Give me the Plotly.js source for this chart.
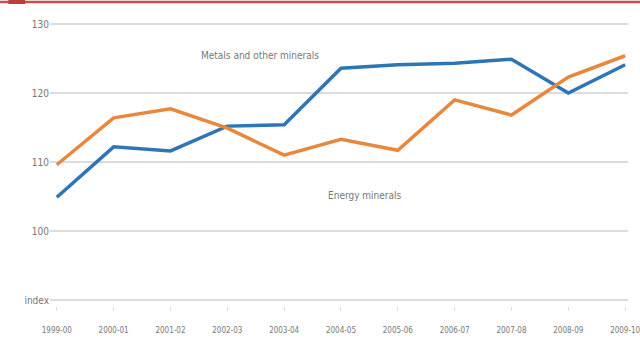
<!DOCTYPE html>
<html>
<head>
<meta charset="utf-8">
<script src="https://cdn.plot.ly/plotly-3.0.1.min.js"></script>
<style>
html,body{margin:0;padding:0;background:#fff;}
#chart{width:640px;height:340px;}
</style>
</head>
<body>
<div id="chart"></div>
<script>
const years = ["1999-00","2000-01","2001-02","2002-03","2003-04","2004-05","2005-06","2006-07","2007-08","2008-09","2009-10"];
const metals = [104.9,112.2,111.6,115.2,115.4,123.6,124.1,124.3,124.9,120.0,124.1];
const energy = [109.6,116.4,117.7,114.9,111.0,113.3,111.7,119.0,116.8,122.3,125.4];
const yTickVals = [90,100,110,120,130];
const yTickText = ["index","100","110","120","130"];

const xIdx = years.map((_, i) => i);
const fontFam = "'Liberation Sans Narrow', 'DejaVu Sans Condensed', 'Liberation Sans', sans-serif";

const traces = [
  {x: xIdx, y: metals, type: 'scatter', mode: 'lines', name: 'Metals and other minerals',
   line: {color: '#2e75b6', width: 3.5}},
  {x: xIdx, y: energy, type: 'scatter', mode: 'lines', name: 'Energy minerals',
   line: {color: '#e8883f', width: 3.5}}
];

const layout = {
  width: 640, height: 340,
  margin: {l: 50, r: 12, t: 20, b: 34},
  paper_bgcolor: '#fff', plot_bgcolor: '#fff',
  showlegend: false,
  font: {family: fontFam, color: '#777', size: 10},
  xaxis: {
    range: [-0.12, 10.05],
    tickvals: xIdx, ticktext: years,
    showgrid: false, zeroline: false, showline: false,
    ticks: 'outside', ticklen: 4, tickcolor: '#ddd',
    ticklabelstandoff: 12,
    ticklabeloverflow: 'allow',
    tickfont: {size: 8, color: '#777'},
    fixedrange: true
  },
  yaxis: {
    range: [89.13, 130.58],
    tickvals: yTickVals, ticktext: yTickText,
    showgrid: true, gridcolor: '#dcdcdc', gridwidth: 2,
    zeroline: false, showline: false, ticks: '',
    tickfont: {size: 10, color: '#777'},
    fixedrange: true
  },
  annotations: [
    {x: 3.57, y: 125.5, xref: 'x', yref: 'y', text: 'Metals and other minerals', showarrow: false,
     font: {size: 10, color: '#777', family: fontFam}},
    {x: 5.42, y: 105.2, xref: 'x', yref: 'y', text: 'Energy minerals', showarrow: false,
     font: {size: 10, color: '#777', family: fontFam}}
  ],
  shapes: [
    {type: 'line', xref: 'paper', yref: 'paper', x0: -0.09, x1: 1.03, y0: 1.063, y1: 1.063,
     line: {color: '#c9504a', width: 2.5}},
    {type: 'rect', xref: 'paper', yref: 'paper', x0: -0.072, x1: -0.043, y0: 1.056, y1: 1.07,
     fillcolor: '#b8403a', line: {width: 0}}
  ]
};

Plotly.newPlot('chart', traces, layout, {displayModeBar: false, staticPlot: true});
</script>
</body>
</html>
